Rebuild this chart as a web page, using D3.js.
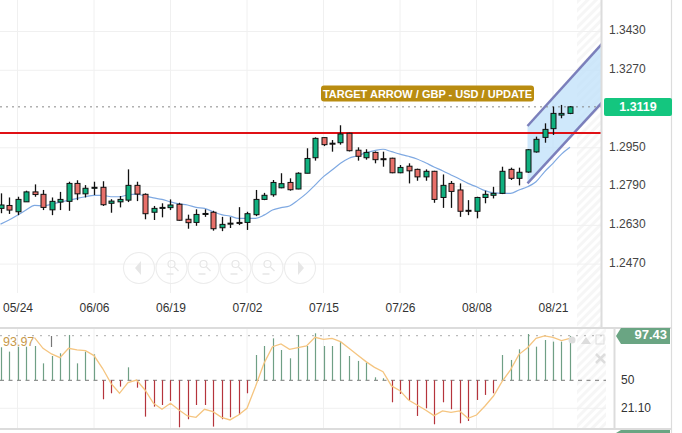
<!DOCTYPE html>
<html>
<head>
<meta charset="utf-8">
<script src="https://cdn.jsdelivr.net/npm/d3@7"></script>
<style>
html, body { margin: 0; padding: 0; background: #fff; overflow: hidden; }
text { font-family: "Liberation Sans", Arial, sans-serif; }
</style>
</head>
<body>
<svg id="chart" width="682" height="433"></svg>
<script>
let opens = [1.2700,1.2712,1.2686,1.2727,1.2768,1.2758,1.2694,1.2726,1.2729,1.2803,1.2760,1.2783,1.2787,1.2721,1.2727,1.2734,1.2795,1.2758,1.2684,1.2700,1.2703,1.2717,1.2655,1.2642,1.2677,1.2684,1.2620,1.2635,1.2642,1.2642,1.2674,1.2737,1.2756,1.2785,1.2807,1.2780,1.2845,1.2909,1.2992,1.2969,1.2971,1.3010,1.2940,1.2909,1.2931,1.2905,1.2907,1.2847,1.2874,1.2861,1.2830,1.2853,1.2745,1.2803,1.2776,1.2692,1.2688,1.2745,1.2754,1.2762,1.2861,1.2824,1.2850,1.2933,1.2993,1.3029,1.3085,1.3092]
let closes = [1.2714,1.2693,1.2737,1.2768,1.2757,1.2704,1.2729,1.2737,1.2803,1.2760,1.2783,1.2787,1.2715,1.2730,1.2737,1.2795,1.2759,1.2678,1.2700,1.2704,1.2714,1.2651,1.2641,1.2675,1.2679,1.2616,1.2634,1.2639,1.2638,1.2678,1.2737,1.2754,1.2807,1.2802,1.2777,1.2845,1.2906,1.2989,1.2963,1.2965,1.3007,1.2938,1.2915,1.2931,1.2901,1.2901,1.2847,1.2869,1.2855,1.2830,1.2853,1.2737,1.2795,1.2770,1.2688,1.2688,1.2745,1.2758,1.2762,1.2853,1.2824,1.2849,1.2942,1.2985,1.3026,1.3092,1.3092,1.3119]
let highs = [1.2762,1.2745,1.2748,1.2773,1.2799,1.2776,1.2745,1.2768,1.2810,1.2816,1.2796,1.2810,1.2812,1.2738,1.2751,1.2861,1.2810,1.2762,1.2710,1.2721,1.2737,1.2723,1.2674,1.2696,1.2696,1.2690,1.2665,1.2664,1.2705,1.2686,1.2776,1.2764,1.2817,1.2845,1.2824,1.2849,1.2948,1.2993,1.2993,1.2982,1.3043,1.3012,1.2952,1.2944,1.2935,1.2934,1.2909,1.2879,1.2886,1.2864,1.2861,1.2855,1.2840,1.2813,1.2803,1.2734,1.2748,1.2773,1.2789,1.2872,1.2868,1.2868,1.2945,1.2996,1.3051,1.3120,1.3127,1.3122]
let lows = [1.2680,1.2677,1.2672,1.2727,1.2748,1.2693,1.2672,1.2693,1.2690,1.2734,1.2745,1.2755,1.2710,1.2682,1.2704,1.2726,1.2730,1.2655,1.2652,1.2663,1.2693,1.2649,1.2616,1.2628,1.2665,1.2608,1.2606,1.2619,1.2631,1.2611,1.2668,1.2734,1.2748,1.2783,1.2773,1.2779,1.2845,1.2897,1.2957,1.2934,1.2963,1.2935,1.2897,1.2901,1.2886,1.2872,1.2845,1.2845,1.2803,1.2814,1.2814,1.2723,1.2702,1.2702,1.2665,1.2672,1.2659,1.2721,1.2741,1.2759,1.2817,1.2795,1.2847,1.2930,1.2971,1.3003,1.3072,1.3089]
let movingAverage = [1.2635,1.2652,1.2672,1.2693,1.2712,1.2710,1.2717,1.2726,1.2733,1.2741,1.2748,1.2754,1.2754,1.2748,1.2748,1.2756,1.2759,1.2751,1.2743,1.2737,1.2727,1.2719,1.2714,1.2704,1.2700,1.2686,1.2674,1.2668,1.2659,1.2659,1.2659,1.2672,1.2693,1.2703,1.2710,1.2734,1.2762,1.2796,1.2831,1.2858,1.2886,1.2907,1.2917,1.2930,1.2938,1.2944,1.2934,1.2924,1.2915,1.2904,1.2888,1.2871,1.2855,1.2838,1.2821,1.2803,1.2789,1.2773,1.2764,1.2762,1.2762,1.2776,1.2789,1.2810,1.2851,1.2886,1.2924,1.2952]

// oscillator panel
let histogram = [84.1,79.6,84.7,84.7,85.4,67.5,75.1,77.9,96.8,67.5,79.6,76.8,30.4,36.6,43.5,63.4,42.4,12.5,22.8,24.5,28.7,1.5,9.8,24.5,24.5,2.2,9.8,11.8,14.2,36.6,76.1,85.4,93.3,81.3,72.7,96.8,85.4,98.5,85.4,85.4,89.9,75.1,70,68.2,53.1,52.1,27.3,35.9,29.7,13.2,21.1,4.6,27.3,20.1,5.6,8,29.7,34.9,36.6,76.1,71,82,97.8,84.7,91.6,89.9,89.9,95.8]
let oscillator = [null,null,null,null,93.97,83,77.2,73.4,83,81.3,80.6,75.5,62.4,46.9,36.6,47.6,50.3,40,26.3,20.1,26.3,19.4,13.2,11.8,20.1,17.7,11.8,9.1,14.2,21.1,43.5,67.5,84.7,87.5,82,83.7,85.4,94.4,92.3,93.3,89.9,83,76.1,69.3,63.4,58.9,44.2,39.3,29.7,24.5,19.4,13.5,18.4,17,18.4,10.8,14.2,23.5,33.8,48.6,60.7,76.8,83.7,93.3,95.8,94.4,90.9,93.3]

let priceTicks = [1.2470,1.2630,1.2790,1.2950,1.3270,1.3430]
let gridPrices = [1.2470,1.2630,1.2790,1.2950,1.3270,1.3430]
let dateIndexes = [2,11,20,29,38,47,56,65]
let dateLabels = ["05/24","06/06","06/19","07/02","07/15","07/26","08/08","08/21"]
let oscTicks = [21.10,50]

let lastPrice = 1.3119
let resistance = 1.3011
let channelIndexes = [62,70.8]
let channelUpper = [1.3040,1.3381]
let channelLower = [1.2803,1.3138]
let annotation = "TARGET ARROW / GBP - USD / UPDATE"

let svg = d3.select("#chart")

let x = d3.scaleLinear().domain([0,67]).range([0.5,570])
let y = d3.scaleLinear().domain([1.2470,1.3430]).range([264.1,31.5])
let yOsc = d3.scaleLinear().domain([21.10,50]).range([408.3,380.3])

let green = "#10b07f"
let red = "#e8706a"

let defs = svg.append("defs")
let hatch = defs.append("pattern")
    .attr("id","hatch")
    .attr("width",6).attr("height",6)
    .attr("patternUnits","userSpaceOnUse")
    .attr("patternTransform","rotate(-45)")
hatch.append("rect").attr("width",6).attr("height",3).attr("fill","#f6f6f6")
defs.append("clipPath").attr("id","mainClip").append("rect").attr("width",601).attr("height",328)
defs.append("clipPath").attr("id","oscClip").append("rect").attr("y",329).attr("width",606).attr("height",99)

// hatched future area
svg.append("rect").attr("x",577).attr("y",0).attr("width",24).attr("height",328).attr("fill","url(#hatch)")
svg.append("rect").attr("x",577).attr("y",329).attr("width",29).attr("height",99).attr("fill","url(#hatch)")

// grid
let grid = svg.append("g").attr("stroke","#f0f0f0").attr("stroke-width",1)
grid.selectAll(".h").data(gridPrices).enter().append("line")
    .attr("x1",0).attr("x2",601)
    .attr("y1",d => y(d)).attr("y2",d => y(d))
grid.selectAll(".v").data(dateIndexes).enter().append("line")
    .attr("x1",d => x(d)).attr("x2",d => x(d))
    .attr("y1",0).attr("y2",293)
grid.selectAll(".vo").data(dateIndexes).enter().append("line")
    .attr("x1",d => x(d)).attr("x2",d => x(d))
    .attr("y1",329).attr("y2",428)
grid.append("line").attr("x1",0).attr("x2",606).attr("y1",yOsc(21.10)).attr("y2",yOsc(21.10))

let main = svg.append("g").attr("clip-path","url(#mainClip)")

// channel
let channelArea = d3.area()
    .x((d,i) => x(channelIndexes[i]))
    .y0((d,i) => y(channelLower[i]))
    .y1(d => y(d))
main.append("path").datum(channelUpper)
    .attr("d",channelArea)
    .attr("fill","#bfe0fa")
    .attr("fill-opacity",0.75)
let channelLine = d3.line().x((d,i) => x(channelIndexes[i])).y(d => y(d))
main.selectAll(".channel").data([channelUpper,channelLower]).enter().append("path")
    .attr("d",channelLine)
    .attr("fill","none")
    .attr("stroke","#7b7fbb")
    .attr("stroke-width",2.5)

// last price and resistance
main.append("line").attr("x1",0).attr("x2",601)
    .attr("y1",y(lastPrice)).attr("y2",y(lastPrice))
    .attr("stroke","#888").attr("stroke-dasharray","2 4").attr("stroke-width",1)
main.append("line").attr("x1",0).attr("x2",601)
    .attr("y1",y(resistance)).attr("y2",y(resistance))
    .attr("stroke","#e01015").attr("stroke-width",2)

// moving average
let maLine = d3.line().x((d,i) => x(i)).y(d => y(d)).curve(d3.curveMonotoneX)
main.append("path").datum(movingAverage)
    .attr("d",maLine)
    .attr("fill","none")
    .attr("stroke","#7fa9e2")
    .attr("stroke-width",1.2)

// candles
let candle = main.selectAll(".candle").data(opens).enter().append("g")
candle.append("line")
    .attr("x1",(d,i) => Math.round(x(i))+0.5).attr("x2",(d,i) => Math.round(x(i))+0.5)
    .attr("y1",(d,i) => y(highs[i])).attr("y2",(d,i) => y(lows[i]))
    .attr("stroke","#111").attr("stroke-width",1.3)
candle.append("rect")
    .attr("x",(d,i) => Math.round(x(i))-2)
    .attr("width",5)
    .attr("y",(d,i) => y(Math.max(d,closes[i])))
    .attr("height",(d,i) => Math.max(1,Math.abs(y(d)-y(closes[i]))))
    .attr("fill",(d,i) => closes[i] >= d ? green : red)
    .attr("stroke","#111").attr("stroke-width",1)

// annotation label
let noteBox = svg.append("g")
noteBox.append("rect").attr("x",321).attr("y",85.5).attr("width",213).attr("height",16).attr("rx",3)
    .attr("fill","#b98c10")
noteBox.append("text").text(annotation)
    .attr("x",427.5).attr("y",97.5).attr("text-anchor","middle")
    .attr("fill","#fff").attr("font-size",11).attr("font-weight","bold")

// navigation buttons
let navCenters = [139,171.5,203.5,235.5,267.5,300]
let nav = svg.append("g")
nav.selectAll("circle").data(navCenters).enter().append("circle")
    .attr("cx",d => d).attr("cy",268).attr("r",15.5)
    .attr("fill","#fff").attr("fill-opacity",0.3).attr("stroke","#ececec").attr("stroke-width",1.1)
nav.append("path").attr("d","M135 268 L141 261 V275 Z").attr("fill","#e6e6e6")
nav.append("path").attr("d","M304 268 L298 261 V275 Z").attr("fill","#e6e6e6")
navCenters.slice(1,5).forEach((c) => {
    nav.append("circle").attr("cx",c).attr("cy",264).attr("r",3.5)
        .attr("fill","none").attr("stroke","#e6e6e6").attr("stroke-width",1.2)
    nav.append("path").attr("d","M"+(c+3)+" 267 L"+(c+7)+" 271 M"+(c-5)+" 274 H"+(c+2))
        .attr("stroke","#e6e6e6").attr("stroke-width",1.4).attr("fill","none")
})

// axes
let priceAxis = d3.axisRight(y).tickValues(priceTicks).tickFormat(d3.format(".4f")).tickSize(0).tickPadding(8)
let priceG = svg.append("g").attr("transform","translate(601,-1.5)").call(priceAxis)
priceG.select(".domain").remove()
priceG.selectAll("text").attr("font-size",12).attr("fill","#444").style("font-family","Liberation Sans")

let dateAxis = d3.axisBottom(x).tickValues(dateIndexes).tickFormat((d,i) => dateLabels[i]).tickSize(0).tickPadding(0)
let dateG = svg.append("g").attr("transform","translate(0,303)").call(dateAxis)
dateG.select(".domain").remove()
dateG.selectAll("text").attr("font-size",12).attr("fill","#333").style("font-family","Liberation Sans")

// oscillator
let osc = svg.append("g").attr("clip-path","url(#oscClip)")
osc.append("line").attr("x1",0).attr("x2",606)
    .attr("y1",335.7).attr("y2",335.7)
    .attr("stroke","#aaa").attr("stroke-dasharray","2 6")
osc.append("line").attr("x1",0).attr("x2",606)
    .attr("y1",yOsc(50)).attr("y2",yOsc(50))
    .attr("stroke","#777").attr("stroke-dasharray","4 4.5")
osc.selectAll(".bar").data(histogram).enter().append("line")
    .attr("x1",(d,i) => Math.round(x(i))+0.5).attr("x2",(d,i) => Math.round(x(i))+0.5)
    .attr("y1",yOsc(50)).attr("y2",d => yOsc(d))
    .attr("stroke",d => d >= 50 ? "#6f9f85" : "#b5343c")
    .attr("stroke-width",1.2)
osc.append("line").attr("x1",x(6)).attr("x2",x(6)).attr("y1",336).attr("y2",347)
    .attr("stroke","#777").attr("stroke-width",1.2)
let oscLine = d3.line().defined(d => d !== null).x((d,i) => x(i)).y(d => yOsc(d))
osc.append("path").datum(oscillator)
    .attr("d",oscLine)
    .attr("fill","none")
    .attr("stroke","#f5c580")
    .attr("stroke-width",1.3)
svg.append("text").text("93.97")
    .attr("x",3).attr("y",346).attr("font-size",12.5).attr("fill","#c8994a")

// panel tools
svg.append("circle").attr("cx",572).attr("cy",340).attr("r",3.5).attr("fill","#ddd")
svg.append("path").attr("d","M581 344 L586 337 L591 344 Z").attr("fill","#ddd")
svg.append("rect").attr("x",596).attr("y",335).attr("width",8).attr("height",9).attr("fill","none").attr("stroke","#ddd")
svg.append("path").attr("d","M596 354 L605 363 M605 354 L596 363").attr("stroke","#ddd").attr("stroke-width",2.5)

let oscAxis = d3.axisRight(yOsc).tickValues(oscTicks).tickFormat((d) => d === 50 ? "50" : d3.format(".2f")(d)).tickSize(0).tickPadding(7)
let oscG = svg.append("g").attr("transform","translate(614,-1)").call(oscAxis)
oscG.select(".domain").remove()
oscG.selectAll("text").attr("font-size",12).attr("fill","#333").style("font-family","Liberation Sans")

// frames
let frame = svg.append("g").attr("stroke","#dcdcdc")
frame.append("line").attr("x1",601.5).attr("x2",601.5).attr("y1",0).attr("y2",328).attr("stroke-width",2)
frame.append("line").attr("x1",0).attr("x2",672).attr("y1",328).attr("y2",328).attr("stroke-width",2)
frame.append("line").attr("x1",0).attr("x2",672).attr("y1",429).attr("y2",429).attr("stroke-width",2)
frame.append("line").attr("x1",614.5).attr("x2",614.5).attr("y1",328).attr("y2",429).attr("stroke-width",2)
frame.append("line").attr("x1",671.5).attr("x2",671.5).attr("y1",0).attr("y2",433).attr("stroke-width",1.2)

// value tags
svg.append("rect").attr("x",604).attr("y",98).attr("width",68).attr("height",18).attr("rx",2).attr("fill","#14c67f")
svg.append("text").text(d3.format(".4f")(lastPrice))
    .attr("x",638).attr("y",111).attr("text-anchor","middle")
    .attr("fill","#fff").attr("font-size",12.5).attr("font-weight","bold")
svg.append("path").attr("d","M621 328 H670 V344 H621 L616 336 Z").attr("fill","#6aa583")
svg.append("text").text("97.43")
    .attr("x",667).attr("y",339).attr("text-anchor","end")
    .attr("fill","#fff").attr("font-size",13).attr("font-weight","bold")
svg.append("path").attr("d","M621 430 H670 V433 H616 Z").attr("fill","#6aa583")
</script>
</body>
</html>
